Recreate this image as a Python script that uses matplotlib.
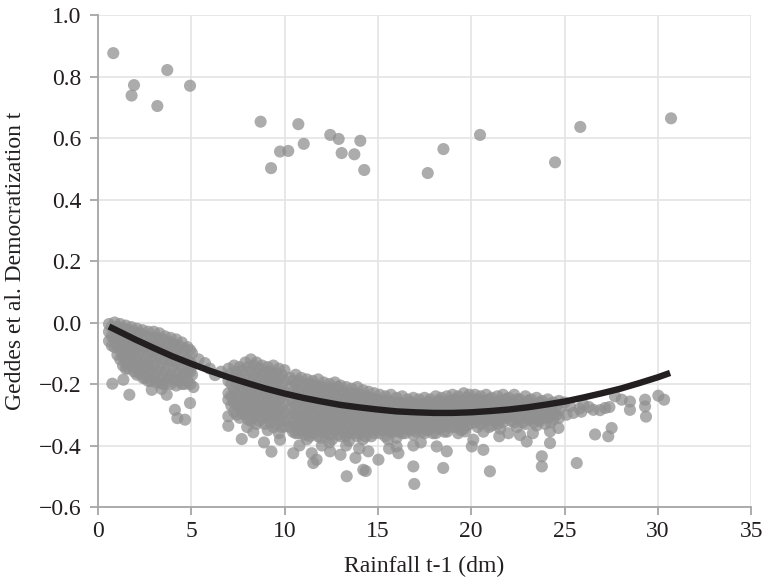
import matplotlib
matplotlib.use("Agg")
import matplotlib.pyplot as plt

plt.rcParams['font.family'] = ['Liberation Serif', 'DejaVu Serif']
plt.rcParams['axes.unicode_minus'] = True

# ---------------- data ----------------
# outliers near the top
outlier_x = [0.83, 1.94, 1.81, 3.72, 3.19, 4.94, 8.72, 10.74, 9.28, 9.76, 10.2, 11.03,
             12.45, 12.9, 13.06, 13.74, 14.06, 14.27, 17.67, 18.51, 20.47, 24.49, 25.84, 30.7]
outlier_y = [0.876, 0.772, 0.738, 0.821, 0.704, 0.770, 0.653, 0.645, 0.502, 0.556, 0.558, 0.581,
             0.610, 0.597, 0.551, 0.547, 0.591, 0.496, 0.486, 0.564, 0.610, 0.521, 0.636, 0.664]

# dense band, read column by column (x of column, y values in column)
band_a_x = [0.6, 0.9, 1.2, 1.5, 1.8, 2.1, 2.4, 2.7, 3.0, 3.3, 3.6, 3.9, 4.2, 4.5, 4.8, 5.05]
band_a_y = [
    [-0.005, -0.03, -0.06],
    [0.0, -0.02, -0.05, -0.08],
    [-0.005, -0.03, -0.06, -0.09, -0.12],
    [-0.01, -0.04, -0.07, -0.10, -0.13, -0.15],
    [-0.015, -0.05, -0.08, -0.11, -0.14],
    [-0.02, -0.05, -0.085, -0.12, -0.15, -0.17],
    [-0.025, -0.06, -0.09, -0.13, -0.16],
    [-0.03, -0.07, -0.10, -0.135, -0.17, -0.19],
    [-0.03, -0.065, -0.10, -0.14, -0.18],
    [-0.035, -0.07, -0.11, -0.15, -0.19],
    [-0.045, -0.08, -0.12, -0.16, -0.20],
    [-0.05, -0.085, -0.125, -0.17, -0.20],
    [-0.055, -0.09, -0.13, -0.165, -0.205],
    [-0.065, -0.10, -0.14, -0.18, -0.20],
    [-0.08, -0.12, -0.16, -0.19],
    [-0.10, -0.14, -0.17],
]
band_a2_x = [0.75, 1.05, 1.35, 1.65, 1.95, 2.25, 2.55, 2.85, 3.15, 3.45, 3.75, 4.05, 4.35, 4.65, 4.95]
band_a2_y = [
    [-0.015, -0.045, -0.075],
    [-0.015, -0.045, -0.075, -0.105],
    [-0.02, -0.05, -0.08, -0.11, -0.14],
    [-0.025, -0.055, -0.09, -0.12, -0.15],
    [-0.03, -0.065, -0.10, -0.13, -0.16],
    [-0.035, -0.07, -0.10, -0.135, -0.165],
    [-0.045, -0.08, -0.115, -0.15, -0.18],
    [-0.05, -0.085, -0.12, -0.155, -0.19],
    [-0.05, -0.085, -0.12, -0.16, -0.195],
    [-0.055, -0.09, -0.13, -0.17, -0.20],
    [-0.065, -0.10, -0.14, -0.18],
    [-0.07, -0.105, -0.145, -0.185],
    [-0.075, -0.11, -0.15, -0.19],
    [-0.085, -0.125, -0.165, -0.20],
    [-0.09, -0.13, -0.16, -0.20],
]
band_b_x = [7.0, 7.3, 7.6, 7.9, 8.2, 8.5, 8.8, 9.1, 9.4, 9.7, 10.0]
band_b_y = [
    [-0.15, -0.19, -0.23],
    [-0.14, -0.18, -0.22, -0.26, -0.29],
    [-0.145, -0.18, -0.215, -0.25, -0.28, -0.31],
    [-0.13, -0.17, -0.20, -0.24, -0.27, -0.30],
    [-0.12, -0.16, -0.20, -0.23, -0.26, -0.29, -0.32],
    [-0.13, -0.165, -0.20, -0.235, -0.27, -0.30, -0.33],
    [-0.14, -0.17, -0.21, -0.245, -0.28, -0.31],
    [-0.145, -0.18, -0.215, -0.25, -0.28, -0.31, -0.35],
    [-0.14, -0.175, -0.21, -0.245, -0.275, -0.305, -0.34],
    [-0.15, -0.185, -0.22, -0.255, -0.29, -0.32, -0.36],
    [-0.155, -0.19, -0.225, -0.26, -0.29, -0.32],
]
band_b2_x = [7.15, 7.45, 7.75, 8.05, 8.35, 8.65, 8.95, 9.25, 9.55, 9.85]
band_b2_y = [
    [-0.165, -0.20, -0.24, -0.27],
    [-0.16, -0.20, -0.235, -0.27, -0.30],
    [-0.155, -0.195, -0.23, -0.265, -0.295],
    [-0.145, -0.185, -0.22, -0.255, -0.285, -0.315],
    [-0.14, -0.18, -0.215, -0.25, -0.285, -0.31],
    [-0.15, -0.185, -0.22, -0.255, -0.29, -0.32],
    [-0.16, -0.195, -0.23, -0.265, -0.295, -0.33],
    [-0.16, -0.195, -0.23, -0.265, -0.295, -0.325],
    [-0.165, -0.20, -0.235, -0.27, -0.30, -0.33],
    [-0.17, -0.205, -0.24, -0.275, -0.305, -0.34],
]
band_c_x = [10.3, 10.6, 10.9, 11.2, 11.5, 11.8, 12.1, 12.4, 12.7, 13.0, 13.3, 13.6, 13.9, 14.2, 14.5, 14.8]
band_c_y = [
    [-0.18, -0.21, -0.245, -0.28, -0.31, -0.34],
    [-0.17, -0.20, -0.235, -0.27, -0.30, -0.335, -0.36],
    [-0.18, -0.215, -0.25, -0.285, -0.315, -0.35],
    [-0.185, -0.22, -0.255, -0.29, -0.32, -0.355, -0.38],
    [-0.19, -0.225, -0.26, -0.295, -0.33, -0.36],
    [-0.185, -0.22, -0.25, -0.285, -0.315, -0.345, -0.37],
    [-0.195, -0.23, -0.265, -0.30, -0.335, -0.36],
    [-0.20, -0.235, -0.27, -0.30, -0.33, -0.365, -0.39],
    [-0.195, -0.23, -0.26, -0.29, -0.32, -0.35],
    [-0.205, -0.24, -0.275, -0.305, -0.335, -0.37],
    [-0.21, -0.245, -0.28, -0.31, -0.34, -0.37, -0.40],
    [-0.215, -0.25, -0.285, -0.315, -0.35],
    [-0.21, -0.245, -0.28, -0.31, -0.34, -0.37],
    [-0.22, -0.255, -0.29, -0.32, -0.35, -0.38],
    [-0.225, -0.26, -0.295, -0.325, -0.355],
    [-0.23, -0.265, -0.30, -0.33, -0.36],
]
band_c2_x = [10.45, 10.75, 11.05, 11.35, 11.65, 11.95, 12.25, 12.55, 12.85, 13.15, 13.45, 13.75, 14.05, 14.35, 14.65, 14.95]
band_c2_y = [
    [-0.19, -0.225, -0.26, -0.295, -0.325, -0.355],
    [-0.19, -0.225, -0.26, -0.30, -0.33, -0.36],
    [-0.20, -0.235, -0.27, -0.305, -0.335, -0.365],
    [-0.20, -0.24, -0.275, -0.31, -0.34, -0.37],
    [-0.205, -0.24, -0.275, -0.31, -0.345],
    [-0.21, -0.245, -0.28, -0.315, -0.35, -0.375],
    [-0.215, -0.25, -0.285, -0.32, -0.35],
    [-0.215, -0.25, -0.285, -0.315, -0.345, -0.38],
    [-0.21, -0.245, -0.28, -0.31, -0.34, -0.365],
    [-0.225, -0.26, -0.29, -0.32, -0.355],
    [-0.23, -0.265, -0.30, -0.33, -0.36, -0.385],
    [-0.23, -0.265, -0.30, -0.33, -0.36],
    [-0.235, -0.27, -0.30, -0.33, -0.36],
    [-0.24, -0.275, -0.305, -0.34, -0.37],
    [-0.245, -0.28, -0.31, -0.34, -0.37],
    [-0.25, -0.285, -0.315, -0.345],
]
band_d_x = [15.1, 15.4, 15.7, 16.0, 16.3, 16.6, 16.9, 17.2, 17.5, 17.8, 18.1, 18.4, 18.7, 19.0, 19.3, 19.6, 19.9]
band_d_y = [
    [-0.235, -0.27, -0.30, -0.33, -0.36],
    [-0.24, -0.275, -0.305, -0.335, -0.37],
    [-0.235, -0.265, -0.295, -0.325, -0.355],
    [-0.245, -0.28, -0.31, -0.34, -0.375],
    [-0.24, -0.27, -0.30, -0.33, -0.36],
    [-0.25, -0.285, -0.315, -0.345],
    [-0.245, -0.275, -0.305, -0.335, -0.365],
    [-0.25, -0.28, -0.31, -0.34],
    [-0.245, -0.275, -0.305, -0.335, -0.36],
    [-0.25, -0.285, -0.315, -0.345],
    [-0.24, -0.27, -0.30, -0.33, -0.36],
    [-0.245, -0.28, -0.31, -0.34],
    [-0.24, -0.27, -0.30, -0.33, -0.355],
    [-0.235, -0.265, -0.295, -0.325],
    [-0.24, -0.275, -0.305, -0.335, -0.36],
    [-0.23, -0.26, -0.29, -0.32, -0.345],
    [-0.235, -0.27, -0.30, -0.33],
]
band_d2_x = [15.25, 15.55, 15.85, 16.15, 16.45, 16.75, 17.05, 17.35, 17.65, 17.95, 18.25, 18.55, 18.85, 19.15, 19.45, 19.75]
band_d2_y = [
    [-0.255, -0.285, -0.315, -0.35],
    [-0.255, -0.29, -0.32, -0.35, -0.38],
    [-0.26, -0.29, -0.32, -0.355],
    [-0.26, -0.295, -0.325, -0.355],
    [-0.265, -0.30, -0.33, -0.36],
    [-0.26, -0.29, -0.32, -0.35],
    [-0.265, -0.295, -0.325, -0.355],
    [-0.265, -0.295, -0.325, -0.355],
    [-0.26, -0.29, -0.32, -0.35],
    [-0.265, -0.30, -0.33, -0.36],
    [-0.255, -0.285, -0.315, -0.345],
    [-0.26, -0.295, -0.325, -0.355],
    [-0.255, -0.285, -0.315, -0.34],
    [-0.25, -0.28, -0.31, -0.34],
    [-0.255, -0.29, -0.32, -0.35],
    [-0.245, -0.275, -0.305, -0.335],
]
band_e_x = [20.2, 20.5, 20.8, 21.1, 21.4, 21.7, 22.0, 22.3, 22.6, 22.9, 23.2, 23.5, 23.8, 24.1, 24.4, 24.7]
band_e_y = [
    [-0.235, -0.265, -0.295, -0.325],
    [-0.24, -0.27, -0.30, -0.33],
    [-0.235, -0.265, -0.295, -0.32],
    [-0.245, -0.275, -0.305, -0.335],
    [-0.24, -0.27, -0.30, -0.33],
    [-0.235, -0.265, -0.295, -0.325],
    [-0.245, -0.275, -0.305],
    [-0.235, -0.265, -0.295, -0.325],
    [-0.25, -0.28, -0.31],
    [-0.24, -0.27, -0.30, -0.33],
    [-0.25, -0.28, -0.31],
    [-0.245, -0.275, -0.305, -0.335],
    [-0.255, -0.285, -0.31],
    [-0.25, -0.28, -0.31],
    [-0.26, -0.29, -0.315],
    [-0.255, -0.285, -0.31],
]
band_e2_x = [20.05, 20.35, 20.65, 20.95, 21.25, 21.55, 21.85, 22.15, 22.45, 22.75, 23.05, 23.35, 23.65, 23.95, 24.25, 24.55]
band_e2_y = [
    [-0.25, -0.285, -0.315],
    [-0.25, -0.28, -0.31, -0.34],
    [-0.255, -0.285, -0.315],
    [-0.25, -0.28, -0.31, -0.34],
    [-0.26, -0.29, -0.32],
    [-0.255, -0.285, -0.315, -0.345],
    [-0.25, -0.28, -0.31],
    [-0.26, -0.29, -0.32],
    [-0.25, -0.28, -0.31, -0.34],
    [-0.265, -0.295, -0.325],
    [-0.255, -0.285, -0.315],
    [-0.265, -0.295, -0.325],
    [-0.26, -0.29, -0.32],
    [-0.27, -0.30, -0.33],
    [-0.265, -0.295, -0.325],
    [-0.275, -0.30],
]

# scattered individual points around the band
scatter_x = [0.78, 1.37, 1.69, 2.26, 2.44, 2.89, 3.42, 3.69, 4.13, 4.26, 4.67, 4.94, 5.12,
             5.4, 5.74, 6.0, 6.28, 6.6,
             6.99, 6.99, 6.99, 7.71, 8.0, 8.33, 8.9, 9.3, 9.76, 10.03, 10.47,
             10.8, 11.46, 11.54, 11.72, 12.0, 12.44, 13.0, 13.33, 13.8, 14.0, 14.22, 14.35, 14.49, 15.03,
             15.6, 16.0, 16.1, 16.9, 16.9, 16.95, 17.3, 18.15, 18.5, 18.69, 19.67, 20.11,
             20.03, 20.65, 20.65, 21.0, 21.5, 21.99, 22.61, 22.97, 23.3, 23.78, 23.78, 24.22, 24.22, 24.67,
             25.0, 25.1, 25.29, 25.47, 25.65, 25.8, 25.9, 26.0, 26.3, 26.54, 26.63, 26.9, 27.17, 27.34,
             27.4, 27.52, 27.7, 28.06, 28.5, 28.5, 29.31, 29.31, 29.36, 30.02, 30.33]
scatter_y = [-0.199, -0.186, -0.235, -0.164, -0.181, -0.219, -0.216, -0.235, -0.284, -0.311, -0.316, -0.262, -0.210,
             -0.120, -0.132, -0.150, -0.171, -0.160,
             -0.251, -0.305, -0.336, -0.379, -0.340, -0.357, -0.390, -0.420, -0.381, -0.338, -0.425,
             -0.400, -0.425, -0.457, -0.446, -0.400, -0.419, -0.430, -0.500, -0.440, -0.410, -0.479, -0.483, -0.419, -0.446,
             -0.410, -0.403, -0.425, -0.400, -0.468, -0.525, -0.390, -0.403, -0.473, -0.419, -0.354, -0.381,
             -0.403, -0.355, -0.414, -0.484, -0.370, -0.360, -0.366, -0.387, -0.360, -0.435, -0.468, -0.392, -0.354, -0.343,
             -0.260, -0.300, -0.273, -0.294, -0.457, -0.280, -0.290, -0.267, -0.275, -0.284, -0.364, -0.285, -0.278, -0.370,
             -0.275, -0.343, -0.240, -0.251, -0.257, -0.284, -0.251, -0.273, -0.306, -0.238, -0.251]

# fitted quadratic curve
curve_x = [0.6, 1, 2, 3, 4, 5, 6, 7, 8, 9, 10, 11, 12, 13, 14, 15, 16, 17, 18, 19, 20,
           21, 22, 23, 24, 25, 26, 27, 28, 29, 30, 30.65]
curve_y = [-0.013, -0.025, -0.055, -0.083, -0.110, -0.134, -0.157, -0.178, -0.197, -0.215, -0.231,
           -0.245, -0.257, -0.268, -0.276, -0.283, -0.289, -0.292, -0.294, -0.294, -0.292,
           -0.288, -0.283, -0.276, -0.267, -0.257, -0.244, -0.230, -0.215, -0.197, -0.178, -0.164]

x_ticks = [0, 5, 10, 15, 20, 25, 30, 35]
y_ticks = [-0.6, -0.4, -0.2, 0.0, 0.2, 0.4, 0.6, 0.8, 1.0]

# ---------------- assemble points ----------------
pts_x, pts_y = [], []
for cols_x, cols_y in [(band_a_x, band_a_y), (band_a2_x, band_a2_y),
                       (band_b_x, band_b_y), (band_b2_x, band_b2_y),
                       (band_c_x, band_c_y), (band_c2_x, band_c2_y),
                       (band_d_x, band_d_y), (band_d2_x, band_d2_y),
                       (band_e_x, band_e_y), (band_e2_x, band_e2_y)]:
    for cx, ys in zip(cols_x, cols_y):
        for yv in ys:
            pts_x.append(cx)
            pts_y.append(yv)
pts_x += scatter_x + outlier_x
pts_y += scatter_y + outlier_y

# ---------------- figure ----------------
fig = plt.figure(figsize=(7.64, 5.77), dpi=100)
ax = fig.add_axes([0.128, 0.1213, 0.8554, 0.8527])

ax.scatter(pts_x, pts_y, s=76, color='#909090', alpha=0.75, edgecolors='none', zorder=3)
ax.plot(curve_x, curve_y, color='#231f20', lw=4.6, solid_capstyle='butt', zorder=4)

ax.set_xlim(0, 35)
ax.set_ylim(-0.6, 1.0)
ax.set_xticks(x_ticks)
ax.set_yticks(y_ticks)
ax.set_xticklabels([f"{v:d}" for v in x_ticks])
ax.set_yticklabels([f"{v:.1f}".replace('-', '\u2212') for v in y_ticks])

ax.grid(True, color='#e4e4e4', lw=1.2, zorder=0)
ax.set_axisbelow(True)
for s in ['top', 'right']:
    ax.spines[s].set_visible(False)
for s in ['left', 'bottom']:
    ax.spines[s].set_color('#a6a6a6')
    ax.spines[s].set_linewidth(1.3)
ax.tick_params(axis='both', direction='out', length=6, width=1.3, color='#a6a6a6',
               labelsize=17, labelcolor='#231f20')
ax.tick_params(axis='y', pad=6)
ax.tick_params(axis='x', pad=4)

ax.set_xlabel('Rainfall t-1 (dm)', fontsize=17, color='#231f20', labelpad=10)
ax.set_ylabel('Geddes et al. Democratization t', fontsize=17, color='#231f20', labelpad=9)

fig.savefig('out.png', dpi=100)
